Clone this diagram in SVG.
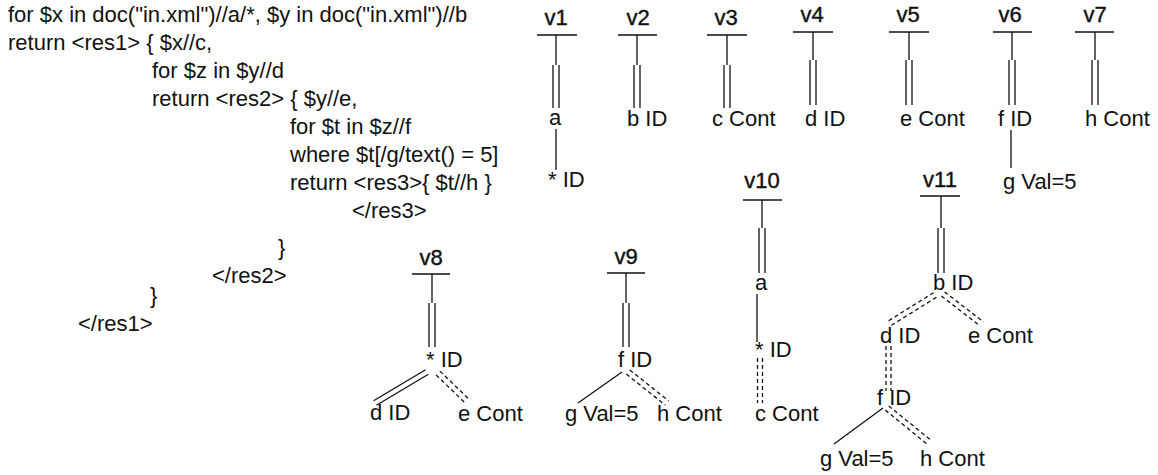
<svg xmlns="http://www.w3.org/2000/svg" width="1158" height="475" viewBox="0 0 1158 475">
<style>
.t{font-family:"Liberation Sans",Arial,sans-serif;font-size:22px;fill:#111}
.v{font-family:"Liberation Sans",Arial,sans-serif;font-size:22px;fill:#111;text-anchor:middle;stroke:#111;stroke-width:0.4}
.c{stroke:#111;stroke-width:1.3;fill:none}
.d{stroke-dasharray:4 3}
</style>
<rect width="1158" height="475" fill="#fff"/>
<g id="query">
<text class="t" x="8" y="22">for $x in doc("in.xml")//a/*, $y in doc("in.xml")//b</text>
<text class="t" x="8" y="50">return &lt;res1&gt; { $x//c,</text>
<text class="t" x="152" y="78">for $z in $y//d</text>
<text class="t" x="152" y="106">return &lt;res2&gt; { $y//e,</text>
<text class="t" x="290" y="134">for $t in $z//f</text>
<text class="t" x="290" y="162">where $t[/g/text() = 5]</text>
<text class="t" x="290" y="190">return &lt;res3&gt;{ $t//h }</text>
<text class="t" x="352" y="218">&lt;/res3&gt;</text>
<text class="t" x="278" y="255">}</text>
<text class="t" x="212" y="283">&lt;/res2&gt;</text>
<text class="t" x="150" y="303">}</text>
<text class="t" x="78" y="331">&lt;/res1&gt;</text>
</g>
<g id="connectors">
<!-- root bars and stems -->
<path class="c" d="M537 35H577M556 35V65M618 35H657M637 35V65M707 35H747M727 35V65M793 32H833M813 32V60M889 32H929M909 32V60M993 32H1032M1012 32V60M1075 32H1114M1095 32V60"/>
<path class="c" d="M412 274H450M432 274V303M607 273H645M626 273V303M743 200H782M762 200V228M920 196H960M941 196V228"/>
<!-- double solid (descendant) -->
<path class="c" d="M553 65V108M559 65V108M634 65V108M640 65V108M724 65V108M730 65V108M810 60V105M816 60V105M906 60V105M912 60V105M1009 60V105M1015 60V105M1092 60V105M1098 60V105"/>
<path class="c" d="M429 303V347M435 303V347M623 303V347M629 303V347M759 228V273M765 228V273M938 228V273M944 228V273"/>
<path class="c" d="M425.6 369.7L373.6 400.7M428.4 374.3L376.4 405.3"/>
<!-- single solid (child) -->
<path class="c" d="M556 129V170M1011 130V168M757 294V342M622 372L578 403M883 408L834 444"/>
<!-- double dashed -->
<path class="c d" d="M436.1 374.9L466.1 403.9M439.9 371.1L469.9 400.1"/>
<path class="c d" d="M626.3 374.1L665.3 405.1M629.7 369.9L668.7 400.9"/>
<path class="c d" d="M757.5 358V403M762.5 358V403"/>
<path class="c d" d="M933.6 292.7L888.6 320.7M936.4 297.3L891.4 325.3"/>
<path class="c d" d="M941.4 296.1L980.4 326.1M944.6 291.9L983.6 321.9"/>
<path class="c d" d="M886 346V391M891 346V391"/>
<path class="c d" d="M885.3 410.1L928.3 445.1M888.7 405.9L931.7 440.9"/>
</g>
<g id="v1"><text class="v" x="556" y="25">v1</text></g>
<g id="v1-a"><text class="t" x="549" y="125">a</text></g>
<g id="v1-star"><text class="t" x="548" y="187">* ID</text></g>
<g id="v2"><text class="v" x="638" y="25">v2</text></g>
<g id="v2-b"><text class="t" x="627" y="126">b ID</text></g>
<g id="v3"><text class="v" x="726" y="25">v3</text></g>
<g id="v3-c"><text class="t" x="712" y="126">c Cont</text></g>
<g id="v4"><text class="v" x="812" y="22">v4</text></g>
<g id="v4-d"><text class="t" x="805" y="126">d ID</text></g>
<g id="v5"><text class="v" x="908" y="22">v5</text></g>
<g id="v5-e"><text class="t" x="900" y="126">e Cont</text></g>
<g id="v6"><text class="v" x="1010" y="22">v6</text></g>
<g id="v6-f"><text class="t" x="998" y="126">f ID</text></g>
<g id="v6-g"><text class="t" x="1003" y="189">g Val=5</text></g>
<g id="v7"><text class="v" x="1095" y="22">v7</text></g>
<g id="v7-h"><text class="t" x="1085" y="126">h Cont</text></g>
<g id="v8"><text class="v" x="431" y="265">v8</text></g>
<g id="v8-star"><text class="t" x="426" y="367">* ID</text></g>
<g id="v8-d"><text class="t" x="370" y="420">d ID</text></g>
<g id="v8-e"><text class="t" x="458" y="421">e Cont</text></g>
<g id="v9"><text class="v" x="626" y="264">v9</text></g>
<g id="v9-f"><text class="t" x="618" y="367">f ID</text></g>
<g id="v9-g"><text class="t" x="565" y="421">g Val=5</text></g>
<g id="v9-h"><text class="t" x="657" y="421">h Cont</text></g>
<g id="v10"><text class="v" x="762" y="188">v10</text></g>
<g id="v10-a"><text class="t" x="755" y="290">a</text></g>
<g id="v10-star"><text class="t" x="755" y="357">* ID</text></g>
<g id="v10-c"><text class="t" x="755" y="421">c Cont</text></g>
<g id="v11"><text class="v" x="940" y="187">v11</text></g>
<g id="v11-b"><text class="t" x="933" y="290">b ID</text></g>
<g id="v11-d"><text class="t" x="880" y="343">d ID</text></g>
<g id="v11-e"><text class="t" x="968" y="343">e Cont</text></g>
<g id="v11-f"><text class="t" x="877" y="405">f ID</text></g>
<g id="v11-g"><text class="t" x="820" y="466">g Val=5</text></g>
<g id="v11-h"><text class="t" x="920" y="466">h Cont</text></g>
</svg>
